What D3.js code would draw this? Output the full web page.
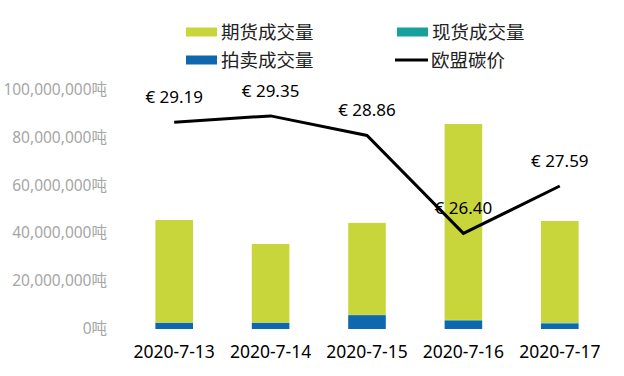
<!DOCTYPE html>
<html><head><meta charset="utf-8">
<script src="https://cdn.jsdelivr.net/npm/d3@7/dist/d3.min.js"></script>
<style>
html,body{margin:0;padding:0;background:#fff;}
svg{display:block;font-family:"Noto Sans","Noto Sans CJK SC",sans-serif;}
</style></head>
<body>
<svg id="chart" width="624" height="376"></svg>
<script>
const dates = ["2020-7-13","2020-7-14","2020-7-15","2020-7-16","2020-7-17"];
const auctionVol = [2600000, 2600000, 5800000, 3500000, 2300000];
const spotVol = [100000, 100000, 100000, 300000, 400000];
const futuresVol = [42900000, 32900000, 38500000, 82000000, 42500000];
const euaPrice = [29.19, 29.35, 28.86, 26.40, 27.59];
const yTicks = [0, 20000000, 40000000, 60000000, 80000000, 100000000];
const legendItems = ["期货成交量","现货成交量","拍卖成交量","欧盟碳价"];

const colors = {futures:"#c9d63b", spot:"#17a19c", auction:"#0f67ad", line:"#000"};

const svg = d3.select("#chart");
const x = d3.scaleBand().domain(dates).range([126, 608]).paddingInner(0.61).paddingOuter(0.305);
const y = d3.scaleLinear().domain([0, 100000000]).range([329, 90]);
const y2 = d3.scaleLinear().domain([24, 30]).range([329, 90]);

// y axis labels
const fmt = d3.format(",");
svg.append("g").selectAll("text").data(yTicks).join("text")
  .attr("x", 107).attr("y", d => y(d) + 5)
  .attr("text-anchor", "end").attr("font-size", 15.5).attr("fill", "#a6a6a6")
  .text(d => fmt(d) + "吨");

// stacked bars
const rows = dates.map((d, i) => ({date: d, auction: auctionVol[i], spot: spotVol[i], futures: futuresVol[i]}));
const stack = d3.stack().keys(["auction","spot","futures"])(rows);
svg.append("g").selectAll("g").data(stack).join("g")
  .attr("fill", s => colors[s.key])
  .selectAll("rect").data(s => s).join("rect")
  .attr("x", d => x(d.data.date)).attr("width", x.bandwidth())
  .attr("y", d => y(d[1])).attr("height", d => y(d[0]) - y(d[1]));

// x labels
svg.append("g").selectAll("text").data(dates).join("text")
  .attr("x", d => x(d) + x.bandwidth()/2).attr("y", 358)
  .attr("text-anchor", "middle").attr("font-size", 17.5).attr("fill", "#000")
  .text(d => d);

// price line
const line = d3.line().x((d, i) => x(dates[i]) + x.bandwidth()/2).y(d => y2(d));
svg.append("path").datum(euaPrice).attr("d", line)
  .attr("fill", "none").attr("stroke", colors.line).attr("stroke-width", 3);

svg.append("g").selectAll("text").data(euaPrice).join("text")
  .attr("x", (d, i) => x(dates[i]) + x.bandwidth()/2).attr("y", d => y2(d) - 19)
  .attr("text-anchor", "middle").attr("font-size", 17).attr("fill", "#000")
  .text(d => "€ " + d.toFixed(2));

// legend
const lg = svg.append("g").attr("font-size", 18.5).attr("fill", "#222");
const lpos = [
  {x: 186, y: 32, type: "rect", c: colors.futures},
  {x: 397, y: 32, type: "rect", c: colors.spot},
  {x: 186, y: 60, type: "rect", c: colors.auction},
  {x: 395, y: 60, type: "line", c: colors.line}
];
legendItems.forEach((t, i) => {
  const p = lpos[i];
  if (p.type === "rect") {
    lg.append("rect").attr("x", p.x).attr("y", p.y - 4.5).attr("width", 31).attr("height", 9).attr("fill", p.c);
  } else {
    lg.append("line").attr("x1", p.x).attr("x2", p.x + 33).attr("y1", p.y).attr("y2", p.y).attr("stroke", p.c).attr("stroke-width", 3);
  }
  lg.append("text").attr("x", (p.type === "rect" ? p.x + 35 : p.x + 36)).attr("y", p.y + 6.5).text(t);
});
</script>
</body></html>
